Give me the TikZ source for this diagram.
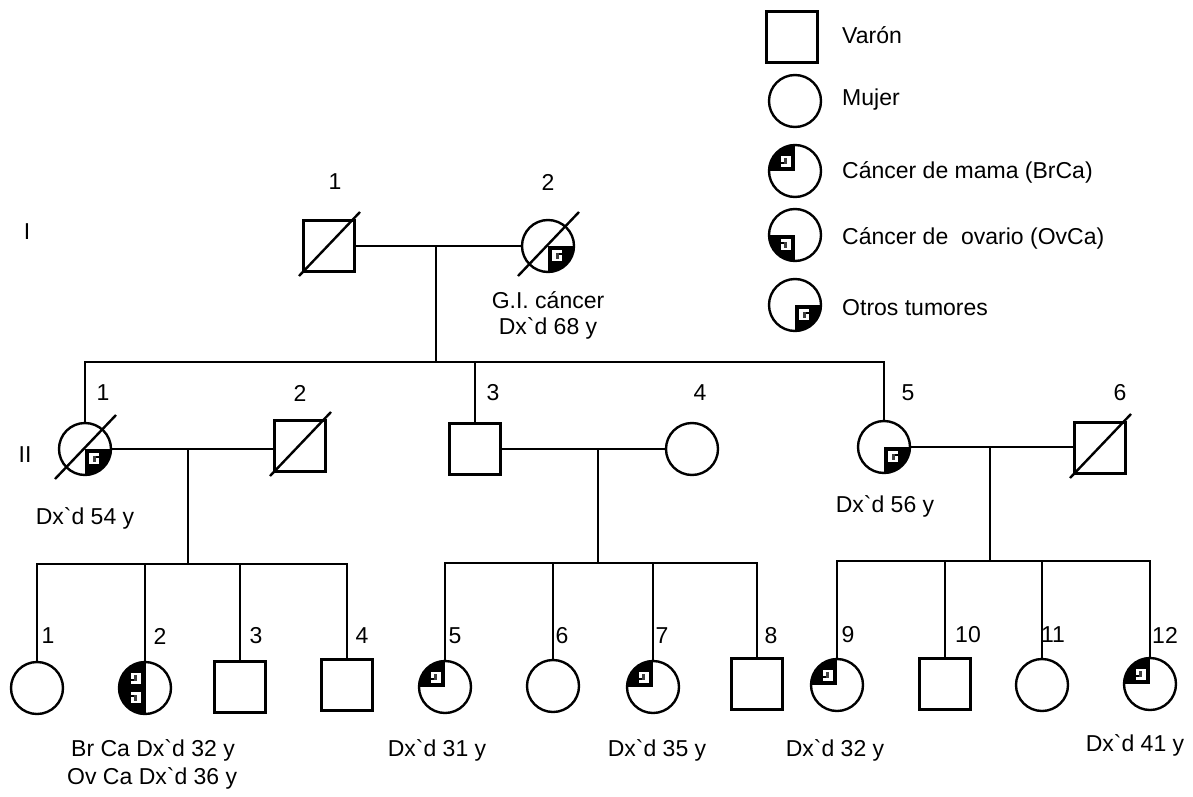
\documentclass[tikz,border=0pt]{standalone}
\usepackage{fontspec}
\setmainfont{Liberation Sans}
\usetikzlibrary{calc}
\newcommand\quadfill[2]{%
  \fill[black] (path picture bounding box.center) rectangle ++(#1*25pt,#2*25pt);
  \fill[white] ($(path picture bounding box.center)+(#1*4pt,#2*4pt)$) rectangle ($(path picture bounding box.center)+(#1*14pt,#2*15pt)$);
  \fill[black!75] ($(path picture bounding box.center)+(#1*8pt,#2*7pt)$) rectangle ($(path picture bounding box.center)+(#1*11pt,#2*13pt)$);
  \fill[black] ($(path picture bounding box.center)+(#1*11pt,#2*7pt)$) rectangle ($(path picture bounding box.center)+(#1*14pt,#2*9pt)$);
}
\tikzset{
  ln/.style={line width=2.4pt},
  male/.style={draw, line width=2.4pt, rectangle, minimum size=51pt, inner sep=0pt, outer sep=0pt},
  female/.style={draw, line width=2.4pt, circle, minimum size=52pt, inner sep=0pt, outer sep=0pt},
  lbl/.style={font=\fontsize{23}{27}\selectfont, inner sep=0pt},
  brca/.style={path picture={\quadfill{-1}{1}}},
  ovca/.style={path picture={\quadfill{-1}{-1}}},
  otros/.style={path picture={\quadfill{1}{-1}}},
  brov/.style={path picture={\quadfill{-1}{1}\quadfill{-1}{-1}
     \draw[line width=2.4pt] (path picture bounding box.north) -- (path picture bounding box.south);}},
}
\newcommand\dead[1]{\draw[ln] ($(#1.center)+(-30,30)$) -- ($(#1.center)+(31,-34)$);}
\begin{document}
\begin{tikzpicture}[x=1pt,y=-1pt]
\useasboundingbox[fill=white] (0,0) rectangle (1193,797);
% ---------- legend
\node[male] (Lm) at (792,37) {};
\node[female] (Lf) at (795,101) {};
\node[female,brca] (Lb) at (795,171) {};
\node[female,ovca] (Lo) at (795,235) {};
\node[female,otros] (Lt) at (795,305) {};
\node[lbl,anchor=west] (tm) at (842,35) {Varón};
\node[lbl,anchor=west] (tf) at (842,100) {Mujer};
\node[lbl,anchor=west] (tb) at (842,172) {Cáncer de mama (BrCa)};
\node[lbl,anchor=west] (to) at (842,238) {Cáncer de~ ovario (OvCa)};
\node[lbl,anchor=west] (tt) at (842,308) {Otros tumores};
% ---------- generation labels
\node[lbl] (gI) at (27,232) {I};
\node[lbl] (gII) at (25,455) {II};
% ---------- generation I
\node[male] (I1) at (329,246) {};
\node[female,otros] (I2) at (548,246) {};
\dead{I1}\dead{I2}
\node[lbl] (nI1) at (335,182) {1};
\node[lbl] (nI2) at (548,182) {2};
\node[lbl] (tI2a) at (548,300) {G.I. cáncer};
\node[lbl] (tI2b) at (548,328) {Dx\textasciigrave d 68 y};
\coordinate (m1) at (436,246);
\coordinate (s1) at (436,362);
\draw[ln] (I1.east) -- (I2.west);
\draw[ln] (m1) -- (s1);
% ---------- generation II
\node[female,otros] (II1) at (85,449) {};
\node[male] (II2) at (300,446) {};
\node[male] (II3) at (475,449) {};
\node[female] (II4) at (692,449) {};
\node[female,otros] (II5) at (884,447) {};
\node[male] (II6) at (1100,448) {};
\dead{II1}\dead{II2}\dead{II6}
\draw[ln] (II1.north) -- (II1.north |- s1) -- (II5.north |- s1) -- (II5.north);
\draw[ln] (II3.north) -- (II3.north |- s1);
\node[lbl] (nII1) at (103,393) {1};
\node[lbl] (nII2) at (300,393) {2};
\node[lbl] (nII3) at (493,393) {3};
\node[lbl] (nII4) at (700,393) {4};
\node[lbl] (nII5) at (908,393) {5};
\node[lbl] (nII6) at (1120,393) {6};
\node[lbl] (tII1) at (85,518) {Dx\textasciigrave d 54 y};
\node[lbl] (tII5) at (885,506) {Dx\textasciigrave d 56 y};
\draw[ln] (II1.east) -- (II2.west |- II1.east);
\draw[ln] (II3.east) -- (II4.west);
\draw[ln] (II5.east) -- (II6.west |- II5.east);
\coordinate (m2) at (188,449);
\coordinate (s2) at (188,564);
\coordinate (m3) at (598,449);
\coordinate (s3) at (598,563);
\coordinate (m4) at (990,447);
\coordinate (s4) at (990,561);
\draw[ln] (m2) -- (s2);
\draw[ln] (m3) -- (s3);
\draw[ln] (m4) -- (s4);
% ---------- generation III
\node[female] (III1) at (37,688) {};
\node[female,brov] (III2) at (145,688) {};
\node[male] (III3) at (240,687) {};
\node[male] (III4) at (347,685) {};
\node[female,brca] (III5) at (445,687) {};
\node[female] (III6) at (553,686) {};
\node[female,brca] (III7) at (653,687) {};
\node[male] (III8) at (757,684) {};
\node[female,brca] (III9) at (837,685) {};
\node[male] (III10) at (945,684) {};
\node[female] (III11) at (1042,685) {};
\node[female,brca] (III12) at (1150,684) {};
\draw[ln] (III1.north) -- (III1.north |- s2) -- (III4.north |- s2) -- (III4.north);
\draw[ln] (III2.north) -- (III2.north |- s2);
\draw[ln] (III3.north) -- (III3.north |- s2);
\draw[ln] (III5.north) -- (III5.north |- s3) -- (III8.north |- s3) -- (III8.north);
\draw[ln] (III6.north) -- (III6.north |- s3);
\draw[ln] (III7.north) -- (III7.north |- s3);
\draw[ln] (III9.north) -- (III9.north |- s4) -- (III12.north |- s4) -- (III12.north);
\draw[ln] (III10.north) -- (III10.north |- s4);
\draw[ln] (III11.north) -- (III11.north |- s4);
\node[lbl] (n1) at (48,636) {1};
\node[lbl] (n2) at (160,636) {2};
\node[lbl] (n3) at (256,636) {3};
\node[lbl] (n4) at (362,636) {4};
\node[lbl] (n5) at (455,636) {5};
\node[lbl] (n6) at (562,636) {6};
\node[lbl] (n7) at (662,636) {7};
\node[lbl] (n8) at (771,636) {8};
\node[lbl] (n9) at (848,635) {9};
\node[lbl] (n10) at (968,635) {10};
\node[lbl] (n11) at (1053,635) {11};
\node[lbl] (n12) at (1165,635) {12};
\node[lbl,anchor=west] (t2a) at (71,750) {Br Ca Dx\textasciigrave d 32 y};
\node[lbl,anchor=west] (t2b) at (67,778) {Ov Ca Dx\textasciigrave d 36 y};
\node[lbl] (t5) at (437,750) {Dx\textasciigrave d 31 y};
\node[lbl] (t7) at (657,750) {Dx\textasciigrave d 35 y};
\node[lbl] (t9) at (835,750) {Dx\textasciigrave d 32 y};
\node[lbl] (t12) at (1135,745) {Dx\textasciigrave d 41 y};
\end{tikzpicture}
\end{document}
